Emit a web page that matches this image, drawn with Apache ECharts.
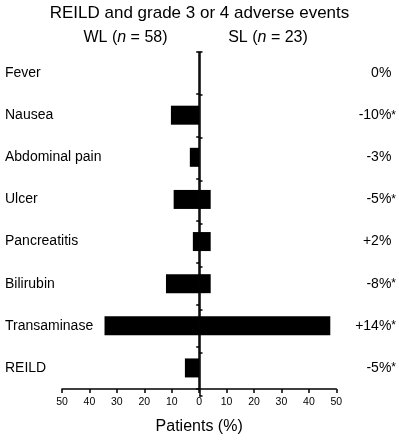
<!DOCTYPE html>
<html>
<head>
<meta charset="utf-8">
<script src="https://cdn.jsdelivr.net/npm/echarts@6/dist/echarts.min.js"></script>
<style>
html, body { margin: 0; padding: 0; background: #fff; }
#myChart { width: 399px; height: 440px; }
</style>
</head>
<body>
<div id="myChart"></div>
<script>
// adverse events, % of patients per arm
var categories = ['Fever', 'Nausea', 'Abdominal pain', 'Ulcer', 'Pancreatitis', 'Bilirubin', 'Transaminase', 'REILD'];
var wlValues = [0, 10.3, 3.4, 9.3, 2.3, 12.1, 34.5, 5.2];
var slValues = [0, 0, 0, 4.2, 4.2, 4.2, 47.8, 0];
var diffLabels = ['0%', '-10%', '-3%', '-5%', '+2%', '-8%', '+14%', '-5%'];
var sigMarks = ['', '*', '', '*', '', '*', '*', '*'];
var groupLabels = ['WL ({i|n} = 58)', 'SL ({i|n} = 23)'];
var titleText = 'REILD and grade 3 or 4 adverse events';
var xTicks = [-50, 50, 10];

var font = 'Liberation Sans, Arial, Helvetica, sans-serif';
var myChart = echarts.init(document.getElementById('myChart'));

var catAxis = function (extra) {
	var a = {
		type: 'category',
		data: categories,
		inverse: true,
		axisLine: { show: false },
		axisTick: { show: false },
		axisLabel: { show: false },
		splitLine: { show: false }
	};
	for (var k in extra) a[k] = extra[k];
	return a;
};

var gridBox = { left: 62, right: 62, top: 52, bottom: 44, containLabel: false };

var option = {
	animation: false,
	textStyle: { fontFamily: font, color: '#000' },
	title: {
		text: titleText,
		left: 'center',
		top: 0,
		textStyle: { fontFamily: font, fontSize: 17, fontWeight: 'normal', color: '#000' }
	},
	graphic: [
		{
			type: 'text', x: 125.5, y: 38,
			style: {
				text: groupLabels[0], fontFamily: font, fontSize: 16, fill: '#000',
				align: 'center', verticalAlign: 'middle',
				rich: { i: { fontStyle: 'italic', fontFamily: font, fontSize: 16 } }
			}
		},
		{
			type: 'text', x: 268, y: 38,
			style: {
				text: groupLabels[1], fontFamily: font, fontSize: 16, fill: '#000',
				align: 'center', verticalAlign: 'middle',
				rich: { i: { fontStyle: 'italic', fontFamily: font, fontSize: 16 } }
			}
		}
	],
	// second grid only carries the right-hand half of the crossing ticks
	grid: [gridBox, gridBox],
	xAxis: [
		{
			type: 'value',
			gridIndex: 0,
			min: xTicks[0],
			max: xTicks[1],
			interval: xTicks[2],
			name: 'Patients (%)',
			nameLocation: 'middle',
			nameGap: 30,
			nameTextStyle: { fontFamily: font, fontSize: 16, color: '#000' },
			axisLine: { show: true, onZero: false, lineStyle: { color: '#000', width: 1.5 } },
			axisTick: { show: true, length: 4, lineStyle: { color: '#000', width: 1.5 } },
			axisLabel: {
				fontFamily: font, fontSize: 10.5, color: '#000', margin: 8,
				formatter: function (v) { return Math.abs(v); }
			},
			splitLine: { show: false }
		},
		{
			type: 'value',
			gridIndex: 1,
			min: xTicks[0],
			max: xTicks[1],
			interval: xTicks[2],
			show: false,
			axisLine: { onZero: false },
			splitLine: { show: false }
		}
	],
	yAxis: [
		// centre axis, ticks to the left
		catAxis({
			gridIndex: 0,
			position: 'left',
			axisLine: { show: true, onZero: true, lineStyle: { color: '#000', width: 1.5 } },
			axisTick: { show: true, length: 3, lineStyle: { color: '#000', width: 1.5 } }
		}),
		// category names at the left edge
		catAxis({
			gridIndex: 0,
			position: 'left',
			axisLine: { show: false, onZero: false },
			axisLabel: { show: true, align: 'left', margin: 57, fontFamily: font, fontSize: 14, color: '#000' }
		}),
		// differences on the right
		catAxis({
			gridIndex: 0,
			position: 'right',
			axisLine: { show: false, onZero: false },
			axisLabel: {
				show: true, align: 'right', margin: 55, fontFamily: font, fontSize: 14, color: '#000',
				formatter: function (v, i) { return diffLabels[i]; }
			}
		}),
		catAxis({
			gridIndex: 0,
			position: 'right',
			axisLine: { show: false, onZero: false },
			axisLabel: {
				show: true, align: 'left', margin: 55, fontFamily: font, fontSize: 12, color: '#000',
				formatter: function (v, i) { return sigMarks[i]; }
			}
		}),
		// centre axis, ticks to the right
		catAxis({
			gridIndex: 1,
			position: 'left',
			axisLine: { show: true, onZero: true, lineStyle: { color: '#000', width: 1.5 } },
			axisTick: { show: true, inside: true, length: 3, lineStyle: { color: '#000', width: 1.5 } }
		})
	],
	series: [
		{
			name: 'WL',
			type: 'bar',
			stack: 'ae',
			xAxisIndex: 0,
			yAxisIndex: 0,
			barWidth: 19,
			itemStyle: { color: '#000' },
			data: wlValues.map(function (v) { return -v; })
		},
		{
			name: 'SL',
			type: 'bar',
			stack: 'ae',
			xAxisIndex: 0,
			yAxisIndex: 0,
			barWidth: 19,
			itemStyle: { color: '#000' },
			data: slValues
		}
	]
};
myChart.setOption(option);
</script>
</body>
</html>
